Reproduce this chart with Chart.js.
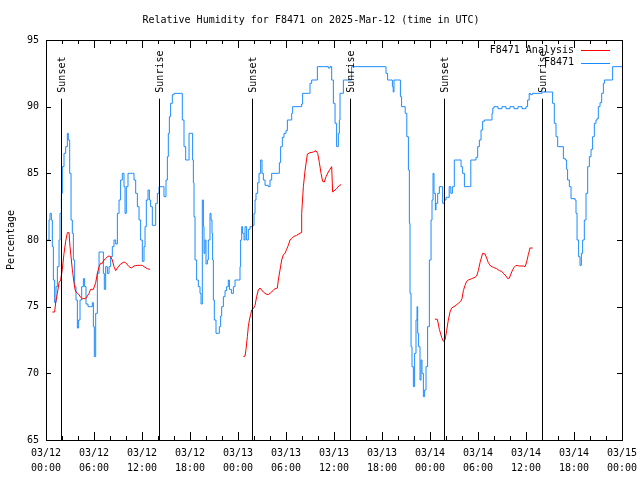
<!DOCTYPE html>
<html>
<head>
<meta charset="utf-8">
<script src="https://cdn.jsdelivr.net/npm/chart.js@4"></script>
<style>
  body { margin: 0; background: #fff; }
</style>
</head>
<body>
<canvas id="rhChart" width="640" height="480"></canvas>
<script>
// hours since 03/12 00:00 UTC
const obsHours = [
  0.17, 0.38, 0.5, 0.67, 0.79, 0.92, 1.08, 1.25, 1.42, 1.63, 1.75, 1.92, 2.04, 2.25, 2.46, 2.67, 2.79, 2.96,
  3.13, 3.29, 3.42, 3.58, 3.75, 3.92, 4.08, 4.25, 4.46, 4.67, 4.83, 5.0, 5.25, 5.58, 5.79, 5.92, 6.04, 6.21,
  6.42, 6.63, 6.92, 7.17, 7.29, 7.46, 7.67, 7.88, 8.08, 8.29, 8.5, 8.71, 8.92, 9.13, 9.33, 9.54, 9.75, 9.88,
  10.04, 10.25, 10.58, 10.83, 11.0, 11.21, 11.42, 11.63, 11.83, 12.04, 12.25, 12.38, 12.54, 12.75, 12.92,
  13.08, 13.29, 13.5, 13.71, 13.92, 14.13, 14.54, 14.75, 15.0, 15.17, 15.29, 15.42, 15.58, 15.79, 16.0,
  16.83, 17.04, 17.25, 17.46, 17.67, 17.88, 18.08, 18.33, 18.42, 18.5, 18.63, 18.83, 19.04, 19.25, 19.38,
  19.54, 19.67, 19.75, 19.88, 20.0, 20.17, 20.29, 20.5, 20.63, 20.75, 20.83, 20.92, 21.04, 21.25, 21.54,
  21.67, 21.83, 21.96, 22.17, 22.38, 22.58, 22.79, 22.92, 23.17, 23.42, 23.63, 24.04, 24.25, 24.33, 24.46,
  24.58, 24.75, 24.88, 25.08, 25.29, 25.5, 25.83, 26.0, 26.13, 26.25, 26.46, 26.63, 26.83, 27.0, 27.17,
  27.38, 27.79, 28.0, 28.21, 29.04, 29.17, 29.33, 29.54, 29.75, 30.0, 30.17, 30.5, 30.71, 30.83, 31.75,
  31.96, 32.08, 32.79, 33.0, 33.21, 33.75, 33.92, 34.67, 35.29, 35.5, 35.71, 35.92, 36.13, 36.33, 36.54,
  36.67, 36.75, 37.17, 38.2, 42.4, 42.5, 42.7, 43.0, 43.3, 43.4, 43.5, 44.1, 44.3, 44.45, 44.75, 44.9,
  45.1, 45.3, 45.42, 45.5, 45.63, 45.75, 45.92, 46.08, 46.25, 46.38, 46.46, 46.58, 46.75, 46.88, 47.0,
  47.17, 47.33, 47.5, 47.7, 47.92, 48.13, 48.25, 48.38, 48.5, 48.67, 48.75, 48.96, 49.17, 49.38, 49.58,
  49.8, 50.0, 50.2, 50.4, 50.6, 50.8, 51.04, 51.5, 51.88, 52.08, 52.3, 52.9, 53.1, 53.5, 53.75, 53.96,
  54.17, 54.38, 54.58, 54.8, 55.6, 55.75, 55.85, 56.0, 56.5, 57.0, 57.5, 58.0, 58.5, 59.0, 59.5, 60.0,
  60.2, 60.4, 60.55, 60.8, 61.9, 62.0, 63.1, 63.33, 63.54, 63.75, 63.96, 64.5, 64.67, 64.92, 65.08, 65.2,
  65.42, 65.63, 66.13, 66.25, 66.38, 66.58, 66.75, 66.92, 67.08, 67.29, 67.5, 67.71, 67.92, 68.13, 68.33,
  68.54, 68.75, 68.88, 69.04, 69.25, 69.46, 69.67, 69.8, 70.6, 70.83, 72.0
];
const obsValues = [
  80, 81.5, 82, 81.5, 79.5, 77, 75.3, 76.5, 78, 80, 82, 83.5, 85.5, 86.5, 87, 88, 87.5, 85,
  81.5, 80.5, 78.5, 76.5, 75.5, 73.4, 74, 75.5, 76.5, 77.1, 76.5, 75.2, 75, 75, 75.3, 73.5, 71.25, 74.5,
  77.5, 79.1, 79.1, 77.5, 76.3, 78, 77.5, 78, 78.75, 79.5, 80, 79.7, 82, 83, 84.5, 85, 84, 82,
  84, 85, 85, 85, 84.5, 83.5, 82.5, 81.5, 80, 78.4, 79.5, 81, 83, 83.75, 83,
  82.5, 81.1, 81.1, 82.75, 83.5, 84, 84, 83.25, 84.5, 86.25, 88, 89.25, 90.25, 90.9, 91,
  91, 89, 87, 86, 86, 88, 88, 86, 84.3, 81.75, 78.5, 77, 76.5, 76, 75.2,
  83, 81, 79, 80, 78.2, 78.5, 80, 82, 81.5, 80.5, 78.5, 75.5, 74, 73, 73,
  73.5, 74.3, 75, 75.75, 76.2, 76.5, 77, 76.3, 76, 76.5, 77, 77, 78, 80, 81,
  80.5, 80, 81, 80, 80.8, 81, 81.1, 82, 83, 83.5, 84.3, 85, 86, 85, 84.5,
  84.1, 84, 84.5, 85, 85, 85.8, 87, 87.7, 88, 88.2, 89, 89, 89.5, 90, 90,
  90.2, 91, 91, 91.75, 92, 92, 93, 93, 92.9, 93, 92, 90.25, 88.75, 87, 88,
  89, 91, 92, 93, 93, 92.5, 92, 92, 91.5, 91.1, 92, 92, 90.75, 90, 90, 89.5,
  87.75, 85.25, 81.25, 76, 72, 70.5, 69, 71.5, 74, 75, 73, 72, 69.5, 71, 70,
  68.25, 68.75, 70.5, 73.5, 78.5, 81.5, 83, 85, 83.5, 82.25, 82.75, 83.5, 84, 84, 82.75,
  83, 83.2, 83.2, 84, 83.5, 84, 86, 86, 85.5, 85, 84, 84, 86, 86, 86.2, 87,
  87.5, 88.25, 88.9, 89, 89, 89.5, 89.9, 90, 89.85, 90, 89.85, 90, 89.85, 90, 89.85, 90,
  90.5, 91, 90.9, 91, 91, 91.1, 91.1, 90.25, 88.75, 87.75, 87, 87, 86.1, 86, 85.3, 84.5,
  84, 83.1, 83, 82, 80, 78.75, 78.1, 79, 80, 81.5, 83.5, 85.5, 86.25, 86.8, 87.75,
  88.75, 89, 89.1, 90, 90.3, 91, 91.75, 92, 92, 93, 93
];

// analysis has three runs, separated by nulls
const anaHours = [
  0.79, 1.08, 1.21, 1.42, 1.63, 1.83, 2.04, 2.25, 2.46, 2.67, 2.88, 3.0, 3.17, 3.29, 3.5, 3.63, 3.75, 3.92,
  4.13, 4.33, 4.54, 4.96, 5.17, 5.38, 5.58, 5.92, 6.21, 6.42, 6.63, 6.83, 7.04, 7.25, 7.46, 7.67, 7.88,
  8.08, 8.29, 8.5, 8.71, 8.92, 9.33, 9.75, 9.96, 10.38, 10.67, 11.0, 11.42, 11.83, 12.04, 12.25, 12.67, 13.0,
  18,
  24.67, 24.88, 25.0, 25.17, 25.29, 25.42, 25.58, 25.71, 25.92, 26.13, 26.33, 26.54, 26.75, 26.96, 27.17,
  27.5, 27.79, 28.0, 28.21, 28.5, 28.92, 29.04, 29.25, 29.46, 29.67, 29.88, 30.08, 30.29, 30.5, 30.71,
  30.92, 31.33, 31.88, 31.96, 32.17, 32.38, 32.67, 33.0, 33.42, 33.75, 33.96, 34.17, 34.38, 34.58, 34.79,
  35.0, 35.29, 35.5, 35.71, 35.83, 36.13, 36.33, 36.67, 36.9,
  42,
  48.6, 48.92, 49.17, 49.46, 49.67, 49.88, 50.08, 50.29, 50.5, 50.71, 51.13, 51.54, 51.83, 52.0, 52.17,
  52.38, 52.58, 52.79, 53.21, 53.63, 53.83, 54.04, 54.25, 54.58, 54.88, 55.08, 55.29, 55.58, 55.92, 56.33,
  56.67, 56.96, 57.17, 57.5, 57.71, 57.92, 58.21, 58.5, 58.75, 59.17, 59.67, 59.88, 60.08, 60.29, 60.5, 60.83
];
const anaValues = [
  74.6, 74.6, 75.3, 76, 76.8, 77, 77.8, 79, 79.9, 80.55, 80.55, 79.5, 78.5, 77.8, 76.8, 76.3, 76.1, 76,
  75.9, 75.7, 75.6, 75.6, 75.8, 76, 76.3, 76.3, 76.8, 77.5, 78, 78.25, 78.25, 78.5, 78.6, 78.75, 78.8,
  78.75, 78.5, 78, 77.7, 77.9, 78.2, 78.35, 78.3, 78, 77.9, 78.05, 78.1, 78.1, 78.1, 78, 77.85, 77.8,
  null,
  71.25, 71.3, 71.8, 72.75, 73.5, 74, 74.4, 74.75, 74.85, 75.1, 75.75, 76.25, 76.4, 76.25, 76.1,
  75.95, 75.9, 76, 76.1, 76.3, 76.4, 77, 77.75, 78.5, 78.9, 79, 79.3, 79.6, 80, 80.1,
  80.25, 80.35, 80.55, 82, 84, 85.2, 86.45, 86.55, 86.6, 86.7, 86.5, 85.8, 85, 84.4, 84.35,
  84.75, 85.1, 85.3, 85.5, 83.6, 83.75, 83.85, 84.1, 84.15,
  null,
  74.07, 74.05, 73.3, 72.7, 72.4, 72.5, 73.2, 74, 74.6, 74.9, 75.05, 75.25, 75.4, 75.6, 76.2,
  76.6, 76.9, 77.0, 77.1, 77.2, 77.3, 77.7, 78.3, 79, 78.95, 78.65, 78.3, 78.05, 77.95, 77.85,
  77.7, 77.65, 77.5, 77.3, 77.1, 77.15, 77.6, 77.95, 78.1, 78.05, 78.05, 78, 78.35, 78.9, 79.4, 79.4
];

const eventNames = ["Sunset", "Sunrise", "Sunset", "Sunrise", "Sunset", "Sunrise"];
const eventHours = [1.92, 14.17, 25.8, 38.04, 49.8, 62.0];

const tickDates = ["03/12", "03/12", "03/12", "03/12", "03/13", "03/13", "03/13", "03/13",
                   "03/14", "03/14", "03/14", "03/14", "03/15"];
const tickTimes = ["00:00", "06:00", "12:00", "18:00", "00:00", "06:00", "12:00", "18:00",
                   "00:00", "06:00", "12:00", "18:00", "00:00"];

const MONO = "'DejaVu Sans Mono', monospace";
const BLUE = "#1a8cff";
const RED = "#ff0000";

// frame, inward tics, sun lines and the in-plot key
const overlay = {
  id: "overlay",
  afterDatasetsDraw(chart) {
    const { ctx, chartArea: a, scales: { x, y } } = chart;
    ctx.save();
    ctx.strokeStyle = "#000";
    ctx.lineWidth = 1;

    ctx.beginPath();
    for (let h = 0; h <= 72; h += 2) {
      const px = Math.round(x.getPixelForValue(h)) + 0.5;
      const len = h % 6 === 0 ? 8 : 4;
      ctx.moveTo(px, a.bottom); ctx.lineTo(px, a.bottom - len);
      ctx.moveTo(px, a.top); ctx.lineTo(px, a.top + len);
    }
    for (let v = 65; v <= 95; v += 5) {
      const py = Math.round(y.getPixelForValue(v)) + 0.5;
      ctx.moveTo(a.left, py); ctx.lineTo(a.left + 5, py);
      ctx.moveTo(a.right, py); ctx.lineTo(a.right - 5, py);
    }
    ctx.stroke();

    ctx.font = "10px " + MONO;
    ctx.fillStyle = "#000";
    const lineTop = y.getPixelForValue(90.6);
    eventHours.forEach((h, i) => {
      const px = Math.round(x.getPixelForValue(h)) + 0.5;
      ctx.beginPath();
      ctx.moveTo(px, lineTop);
      ctx.lineTo(px, a.bottom);
      ctx.stroke();
      ctx.save();
      ctx.translate(px + 0.5, lineTop - 6);
      ctx.rotate(-Math.PI / 2);
      ctx.textAlign = "left";
      ctx.textBaseline = "middle";
      ctx.fillText(eventNames[i], 0, 0);
      ctx.restore();
    });

    ctx.strokeRect(a.left + 0.5, a.top + 0.5, a.width, a.height);

    // key
    const keys = [["F8471 Analysis", RED], ["F8471", BLUE]];
    ctx.textAlign = "right";
    ctx.textBaseline = "middle";
    keys.forEach(([label, color], i) => {
      const ky = a.top + 10 + i * 12.5;
      ctx.fillStyle = "#000";
      ctx.fillText(label, a.right - 48, ky);
      ctx.strokeStyle = color;
      ctx.beginPath();
      ctx.moveTo(a.right - 41, Math.round(ky) + 0.5);
      ctx.lineTo(a.right - 12, Math.round(ky) + 0.5);
      ctx.stroke();
    });
    ctx.restore();
  }
};

new Chart(document.getElementById("rhChart").getContext("2d"), {
  type: "line",
  data: {
    datasets: [
      {
        label: "F8471 Analysis",
        data: anaHours.map((h, i) => ({ x: h, y: anaValues[i] })),
        borderColor: RED,
        borderWidth: 1,
        pointRadius: 0,
        tension: 0,
        spanGaps: false,
        fill: false
      },
      {
        label: "F8471",
        data: obsHours.map((h, i) => ({ x: h, y: obsValues[i] })),
        borderColor: BLUE,
        borderWidth: 1,
        pointRadius: 0,
        stepped: true,
        fill: false
      }
    ]
  },
  options: {
    responsive: false,
    animation: false,
    layout: { padding: { right: 18 } },
    plugins: {
      legend: { display: false },
      tooltip: { enabled: false },
      title: {
        display: true,
        text: "Relative Humidity for F8471 on 2025-Mar-12 (time in UTC)",
        color: "#000",
        font: { family: MONO, size: 10, weight: "normal" },
        padding: { top: 14, bottom: 14 }
      }
    },
    scales: {
      x: {
        type: "linear",
        min: 0,
        max: 72,
        grid: { display: false, drawTicks: false },
        border: { display: false },
        afterFit: (s) => { s.height = 40; s.paddingLeft = 0; s.paddingRight = 0; },
        ticks: {
          stepSize: 6,
          autoSkip: false,
          maxRotation: 0,
          padding: 6,
          color: "#000",
          font: { family: MONO, size: 10, lineHeight: 1.5 },
          callback: (v) => [tickDates[v / 6], tickTimes[v / 6]]
        }
      },
      y: {
        min: 65,
        max: 95,
        grid: { display: false, drawTicks: false },
        border: { display: false },
        afterFit: (s) => { s.width = 46; s.paddingTop = 0; s.paddingBottom = 0; },
        title: {
          display: true,
          text: "Percentage",
          color: "#000",
          font: { family: MONO, size: 10 },
          padding: { top: 5, bottom: 0 }
        },
        ticks: {
          stepSize: 5,
          padding: 7,
          color: "#000",
          font: { family: MONO, size: 10 }
        }
      }
    }
  },
  plugins: [overlay]
});
</script>
</body>
</html>
